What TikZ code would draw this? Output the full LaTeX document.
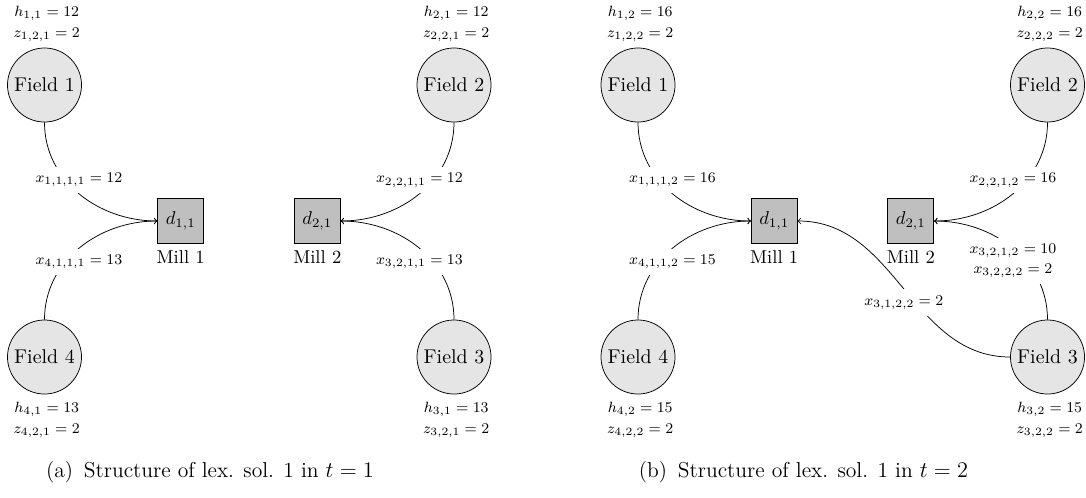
\documentclass[tikz,border=0pt]{standalone}
\usetikzlibrary{positioning}
\begin{document}
\begin{tikzpicture}[x=0.5376pt,y=-0.5376pt,
  field/.style={circle,draw,fill=gray!20,minimum size=39.8pt,inner sep=0pt,font=\fontsize{10.7}{12}\selectfont},
  mill/.style={rectangle,draw,fill=gray!50,minimum width=24.7pt,minimum height=24.2pt,inner sep=0pt},
  info/.style={font=\fontsize{8.5}{11.3}\selectfont,align=center,inner sep=2pt},
  flow/.style={font=\fontsize{8.3}{10.8}\selectfont,fill=white,align=center},
  captext/.style={font=\fontsize{11.6}{13.9}\selectfont},
  arr/.style={->}]
\useasboundingbox (0,0) rectangle (1086,497);
% ---------- (a) ----------
\node[field] (F1a) at (44.5,85) {Field 1};
\node[field] (F2a) at (454,85) {Field 2};
\node[field] (F3a) at (454,357) {Field 3};
\node[field] (F4a) at (44.5,357) {Field 4};
\node[mill] (M1a) at (180.7,221) {$d_{1,1}$};
\node[mill] (M2a) at (317.3,221) {$d_{2,1}$};
\node[below=0pt of M1a] (L1a) {Mill 1};
\node[below=0pt of M2a] (L2a) {Mill 2};
\node[info,above=1pt of F1a,xshift=1.2pt] (I1a) {$h_{1,1}=12$\\$z_{1,2,1}=2$};
\node[info,above=1pt of F2a,xshift=1.2pt] (I2a) {$h_{2,1}=12$\\$z_{2,2,1}=2$};
\node[info,below=2pt of F3a,xshift=1.2pt] (I3a) {$h_{3,1}=13$\\$z_{3,2,1}=2$};
\node[info,below=2pt of F4a,xshift=1.2pt] (I4a) {$h_{4,1}=13$\\$z_{4,2,1}=2$};
\draw[arr] (F1a) to[out=-90,in=180] node[flow,above] (E1a) {$x_{1,1,1,1}=12$} (M1a);
\draw[arr] (F4a) to[out=90,in=180] node[flow,below] (E4a) {$x_{4,1,1,1}=13$} (M1a);
\draw[arr] (F2a) to[out=-90,in=0] node[flow,above] (E2a) {$x_{2,2,1,1}=12$} (M2a);
\draw[arr] (F3a) to[out=90,in=0] node[flow,below] (E3a) {$x_{3,2,1,1}=13$} (M2a);
\node[captext] (Ca) at (210,472) {(a)\enspace Structure of lex. sol. 1 in $t=1$};
% ---------- (b) ----------
\node[field] (F1b) at (638,85) {Field 1};
\node[field] (F2b) at (1047.5,85) {Field 2};
\node[field] (F3b) at (1047.5,357) {Field 3};
\node[field] (F4b) at (638,357) {Field 4};
\node[mill] (M1b) at (774.2,221) {$d_{1,1}$};
\node[mill] (M2b) at (910.8,221) {$d_{2,1}$};
\node[below=0pt of M1b] (L1b) {Mill 1};
\node[below=0pt of M2b] (L2b) {Mill 2};
\node[info,above=1pt of F1b,xshift=1.2pt] (I1b) {$h_{1,2}=16$\\$z_{1,2,2}=2$};
\node[info,above=1pt of F2b,xshift=1.2pt] (I2b) {$h_{2,2}=16$\\$z_{2,2,2}=2$};
\node[info,below=2pt of F3b,xshift=1.2pt] (I3b) {$h_{3,2}=15$\\$z_{3,2,2}=2$};
\node[info,below=2pt of F4b,xshift=1.2pt] (I4b) {$h_{4,2}=15$\\$z_{4,2,2}=2$};
\draw[arr] (F1b) to[out=-90,in=180] node[flow,above] (E1b) {$x_{1,1,1,2}=16$} (M1b);
\draw[arr] (F4b) to[out=90,in=180] node[flow,below] (E4b) {$x_{4,1,1,2}=15$} (M1b);
\draw[arr] (F2b) to[out=-90,in=0] node[flow,above] (E2b) {$x_{2,2,1,2}=16$} (M2b);
\draw[arr] (F3b) to[out=90,in=0] node[flow,yshift=-6.8pt] (E3b) {$x_{3,2,1,2}=10$\\$x_{3,2,2,2}=2$} (M2b);
\draw[arr] (F3b) to[out=180,in=0] node[flow,below] (E5b) {$x_{3,1,2,2}=2$} (M1b);
\node[captext] (Cb) at (803.5,472) {(b)\enspace Structure of lex. sol. 1 in $t=2$};
\end{tikzpicture}
\end{document}
